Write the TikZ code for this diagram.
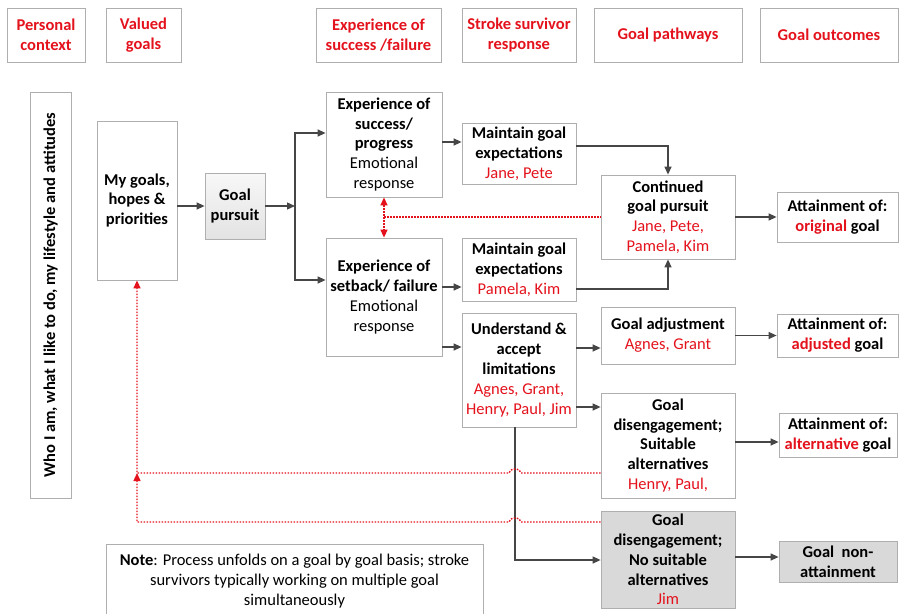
\documentclass[tikz,border=0pt]{standalone}
\usepackage{fontspec}
\setmainfont{Carlito}
\usetikzlibrary{arrows.meta}
\definecolor{hdrred}{RGB}{228,18,28}
\definecolor{boxline}{RGB}{175,175,175}
\definecolor{arrowgray}{RGB}{70,70,70}
\definecolor{shadegray}{RGB}{217,217,217}
\newcommand{\survivor}[1]{\textcolor{hdrred}{#1}}

\begin{document}
\begin{tikzpicture}[x=1pt,y=-1pt,
  font=\fontsize{16.5}{19.8}\selectfont,
  hdr/.style={draw=boxline, line width=0.8pt, align=center, text=hdrred,
    font=\fontsize{16.5}{19.8}\selectfont\bfseries, minimum height=54, inner sep=0pt},
  blk/.style={draw=boxline, line width=0.8pt, fill=white, align=center, inner sep=0pt},
  greyblk/.style={blk, fill=shadegray},
  flow/.style={draw=arrowgray, line width=1.3pt, -{Triangle[length=8pt,width=7pt]}},
  fb/.style={draw=hdrred, line width=1.4pt, dash pattern=on 1.6pt off 1.4pt,
    -{Triangle[length=8pt,width=7pt,fill=hdrred]}}
]
\useasboundingbox (0,0) rectangle (899,613);

% column headers
\node[hdr, minimum width=78]  (hpers) at (46,35)    {Personal\\context};
\node[hdr, minimum width=75]  (hval)  at (143.5,35) {Valued\\goals};
\node[hdr, minimum width=125] (hexp)  at (378.5,35) {Experience of\\success /failure};
\node[hdr, minimum width=114] (hresp) at (519,35)   {Stroke survivor\\response};
\node[hdr, minimum width=148] (hpath) at (668,35)   {Goal pathways};
\node[hdr, minimum width=138] (hout)  at (829,35)   {Goal outcomes};

% personal context and valued goals
\node[blk, minimum width=406, minimum height=41, rotate=90, font=\fontsize{16.5}{19.8}\selectfont\bfseries]
  (who) at (50.5,295) {Who I am, what I like to do, my lifestyle and attitudes};
\node[blk, minimum width=80, minimum height=159, font=\fontsize{16.5}{19.8}\selectfont\bfseries]
  (goals) at (137,200.5) {My goals,\\hopes \&\\priorities};
\node[blk, minimum width=60, minimum height=66, top color=gray!6, bottom color=gray!22,
  font=\fontsize{16.5}{19.8}\selectfont\bfseries]
  (pursuit) at (235,206) {Goal\\pursuit};

% experience of success / failure
\node[blk, minimum width=116, minimum height=105] (succ) at (384,144.5)
  {\bfseries Experience of\\\bfseries success/\\\bfseries progress\\Emotional\\response};
\node[blk, minimum width=116, minimum height=118] (setb) at (384,297)
  {\bfseries Experience of\\\bfseries setback/ failure\\Emotional\\response};

% stroke survivor response
\node[blk, minimum width=114, minimum height=61] (main1) at (519,153.5)
  {\bfseries Maintain goal\\\bfseries expectations\\\survivor{Jane, Pete}};
\node[blk, minimum width=114, minimum height=63] (main2) at (519,269.5)
  {\bfseries Maintain goal\\\bfseries expectations\\\survivor{Pamela, Kim}};
\node[blk, minimum width=114, minimum height=114] (undst) at (519,370)
  {\bfseries Understand \&\\\bfseries accept\\\bfseries limitations\\\survivor{Agnes, Grant,}\\\survivor{Henry, Paul, Jim}};

% goal pathways
\node[blk, minimum width=134, minimum height=84] (cont) at (668,217)
  {\bfseries Continued\\\bfseries goal pursuit\\\survivor{Jane, Pete,}\\\survivor{Pamela, Kim}};
\node[blk, minimum width=134, minimum height=57] (adj) at (668,335.5)
  {\bfseries Goal adjustment\\\survivor{Agnes, Grant}};
\node[blk, minimum width=134, minimum height=105] (disA) at (668,445.5)
  {\bfseries Goal\\\bfseries disengagement;\\\bfseries Suitable\\\bfseries alternatives\\\survivor{Henry, Paul,}};
\node[greyblk, minimum width=134, minimum height=97] (disB) at (668,559.5)
  {\bfseries Goal\\\bfseries disengagement;\\\bfseries No suitable\\\bfseries alternatives\\\survivor{Jim}};

% goal outcomes
\node[blk, minimum width=121, minimum height=50] (attO) at (837.5,217)
  {\bfseries Attainment of:\\\bfseries \survivor{original} goal};
\node[blk, minimum width=121, minimum height=43] (attA) at (837.5,335.5)
  {\bfseries Attainment of:\\\bfseries \survivor{adjusted} goal};
\node[blk, minimum width=118, minimum height=44] (attL) at (838,435)
  {\bfseries Attainment of:\\\bfseries \survivor{alternative} goal};
\node[greyblk, minimum width=118, minimum height=41] (nonat) at (838,561.5)
  {\bfseries Goal\ \ non-\\\bfseries attainment};

% note
\node[blk, anchor=north, minimum width=377, inner ysep=10pt] (note) at (294.5,544)
  {\textbf{Note}: Process unfolds on a goal by goal basis; stroke\\
   survivors typically working on multiple goal\\simultaneously};

% main flow
\coordinate (split) at (295,206);
\draw[flow] (goals.east |- pursuit) -- (pursuit.west);
\draw[flow] (pursuit.east) -- (split);
\draw[flow] (split) |- (succ.west |- 0,133);
\draw[flow] (split) |- (setb.west |- 0,280);
\draw[flow] (succ.east |- 0,142) -- (main1.west |- 0,142);
\draw[flow] (setb.east |- 0,287) -- (main2.west |- 0,287);
\draw[flow] (setb.east |- 0,347) -- (undst.west |- 0,347);
\draw[flow] (main1.east |- 0,146) -| (cont.north);
\draw[flow] (main2.east |- 0,289) -| (cont.south);
\draw[flow] (cont.east) -- (attO.west);
\draw[flow] (undst.east |- 0,348) -- (adj.west |- 0,348);
\draw[flow] (adj.east) -- (attA.west);
\draw[flow] (undst.east |- 0,407) -- (disA.west |- 0,407);
\draw[flow] (disA.east |- 0,442) -- (attL.west |- 0,442);
\draw[flow] (undst.south -| 515,0) |- (disB.west |- 0,560);
\draw[flow] (disB.east |- 0,557) -- (nonat.west |- 0,557);

% feedback (red dotted)
\draw[fb, {Triangle[length=8pt,width=7pt,fill=hdrred]}-{Triangle[length=8pt,width=7pt,fill=hdrred]}]
  (succ.south) -- (setb.north);
\draw[fb, -] (384,217) -- (cont.west);
\draw[fb] (disA.west |- 0,473) -- (521,473) arc[start angle=0, end angle=-180, x radius=6, y radius=4]
  -- (137,473) -- (goals.south);
\draw[fb] (disB.west |- 0,522) -- (521,522) arc[start angle=0, end angle=-180, x radius=6, y radius=4]
  -- (137,522) -- (137,473);
\end{tikzpicture}
\end{document}
